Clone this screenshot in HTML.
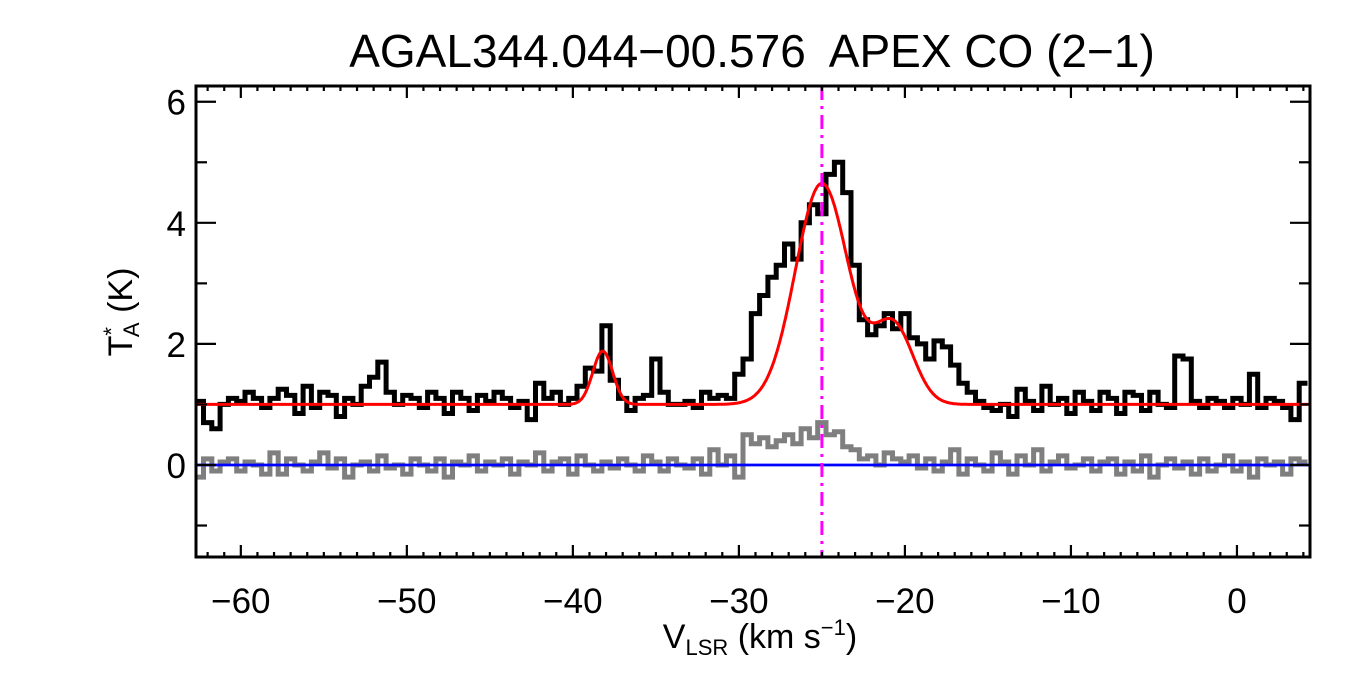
<!DOCTYPE html>
<html><head><meta charset="utf-8"><style>
html,body{margin:0;padding:0;background:#fff;}
svg{display:block;font-family:"Liberation Sans",sans-serif;}
</style></head><body>
<svg id="chart" width="1350" height="675" viewBox="0 0 1350 675" xmlns="http://www.w3.org/2000/svg">
<rect width="1350" height="675" fill="#fff"/>
<text x="752" y="67" font-size="46" text-anchor="middle" style="white-space:pre">AGAL344.044−00.576  APEX CO (2−1)</text>
<g id="plot"></g>
<text x="760" y="648" font-size="34" text-anchor="middle">V<tspan font-size="22" dy="7">LSR</tspan><tspan dy="-7"> (km s</tspan><tspan font-size="22" dy="-13">−1</tspan><tspan dy="13">)</tspan></text>
<text transform="translate(132,312) rotate(-90)" font-size="34" text-anchor="middle">T<tspan font-size="22" dy="-13">*</tspan><tspan font-size="22" dx="-10" dy="20">A</tspan><tspan dy="-7"> (K)</tspan></text>
</svg>
<script>
const vStart = -62.5;
const vStep = 0.5;
const spectrum = [
1.05,0.7,0.6,1.0,1.1,1.05,1.2,1.1,0.95,1.1,
1.25,1.15,0.85,1.3,0.95,1.2,1.15,0.8,1.1,1.0,
1.3,1.45,1.7,1.2,1.0,1.15,1.1,0.95,1.2,1.1,
0.85,1.2,1.1,0.9,1.15,1.05,1.2,1.1,0.95,1.05,
0.75,1.35,1.1,1.2,1.0,1.1,1.3,1.6,1.55,2.3,
1.4,1.1,0.9,1.1,1.15,1.75,1.2,1.0,1.0,1.05,
0.95,1.2,1.1,1.15,1.1,1.5,1.75,2.5,2.8,3.1,
3.3,3.65,3.4,4.0,4.3,4.15,4.8,5.0,4.5,3.3,
2.4,2.15,2.3,2.5,2.25,2.5,2.1,2.0,1.75,2.05,
1.95,1.65,1.35,1.2,1.05,0.95,0.9,1.0,0.8,1.25,
1.05,0.9,1.3,1.0,1.1,0.85,1.2,1.05,0.9,1.2,
1.1,0.85,1.2,1.15,0.9,1.2,1.0,0.95,1.8,1.75,
1.05,0.95,1.1,1.05,0.95,1.1,1.0,1.5,0.95,1.1,
1.05,0.95,0.75,1.35];
const residual = [
-0.2,0.1,-0.1,0.05,0.1,-0.1,0.05,0.0,-0.15,0.2,
-0.15,0.1,0.0,-0.1,0.05,0.2,-0.05,0.1,-0.2,0.0,
0.05,-0.1,0.15,-0.05,0.0,-0.15,0.1,0.0,-0.1,0.1,
-0.2,0.05,0.0,0.15,-0.1,0.05,0.0,0.1,-0.15,0.05,
0.0,0.2,-0.1,0.05,0.1,-0.15,0.15,0.0,-0.1,0.05,
-0.05,0.1,0.0,-0.1,0.15,0.05,-0.1,0.1,0.0,-0.05,
0.1,-0.15,0.25,0.0,0.15,-0.2,0.5,0.35,0.45,0.3,
0.4,0.5,0.35,0.6,0.45,0.7,0.5,0.55,0.3,0.25,
0.1,0.15,0.0,0.2,0.1,0.05,0.15,-0.05,0.1,-0.1,
0.05,0.25,-0.15,0.1,0.0,-0.1,0.2,0.05,-0.15,0.15,
0.0,0.25,-0.1,0.05,0.15,-0.05,0.0,0.1,-0.1,0.05,
0.1,-0.15,0.05,-0.1,0.15,-0.2,0.0,0.1,-0.05,0.05,
-0.15,0.1,-0.1,0.0,0.15,-0.1,0.05,-0.2,0.1,0.0,
0.05,-0.15,0.1,0.05];
const fitBaseline = 1.0;
const fitCenters = [-38.2, -25.0, -20.7];
const fitAmps = [0.88, 3.65, 1.3];
const fitSigmas = [0.6, 1.6, 1.2];
const vMarker = -25.0;
const xTickLabels = [-60,-50,-40,-30,-20,-10,0];
const yTickLabels = [0,2,4,6];
const xMin = -62.7, xMax = 4.4, yMin = -1.52, yMax = 6.26;

const L=196, R=1310, T=86, B=557;
const NS="http://www.w3.org/2000/svg";
const X = v => L + (v - xMin) / (xMax - xMin) * (R - L);
const Y = t => B - (t - yMin) / (yMax - yMin) * (B - T);
const plot = document.getElementById('plot');
function mk(tag, attrs){const e=document.createElementNS(NS,tag);for(const k in attrs)e.setAttribute(k,attrs[k]);return e;}

const clip = mk('clipPath',{id:'clp'});
clip.appendChild(mk('rect',{x:L,y:T,width:R-L,height:B-T}));
plot.appendChild(clip);
const g = mk('g',{'clip-path':'url(#clp)'});
plot.appendChild(g);

function stepPath(arr){
  let d='';
  arr.forEach((t,i)=>{
    const v0 = vStart + i*vStep - vStep/2, v1 = v0 + vStep;
    d += (i===0?'M':'L') + X(v0).toFixed(1)+','+Y(t).toFixed(1)+' L'+X(v1).toFixed(1)+','+Y(t).toFixed(1)+' ';
  });
  return d;
}
const gray = mk('path',{d:stepPath(residual),fill:'none',stroke:'#7f7f7f','stroke-width':5});


g.appendChild(gray);

const blue = mk('line',{x1:L,x2:R,y1:Y(0),y2:Y(0),stroke:'#0000ff','stroke-width':2.8});


g.appendChild(blue);

const black = mk('path',{d:stepPath(spectrum),fill:'none',stroke:'#000','stroke-width':5});


g.appendChild(black);

let fd='';
for(let v=xMin; v<=xMax; v+=0.05){
  let t=fitBaseline;
  for(let k=0;k<fitCenters.length;k++) t+=fitAmps[k]*Math.exp(-Math.pow(v-fitCenters[k],2)/(2*fitSigmas[k]*fitSigmas[k]));
  fd += (fd?'L':'M')+X(v).toFixed(1)+','+Y(t).toFixed(1)+' ';
}
const red = mk('path',{d:fd,fill:'none',stroke:'#ff0000','stroke-width':3});


g.appendChild(red);

const mag = mk('line',{x1:X(vMarker),x2:X(vMarker),y1:T,y2:B,stroke:'#ff00ff','stroke-width':3,'stroke-dasharray':'14,6,3,6'});


g.appendChild(mag);

const frame = mk('rect',{x:L,y:T,width:R-L,height:B-T,fill:'none',stroke:'#000','stroke-width':3});


plot.appendChild(frame);

for(let v=Math.ceil(xMin); v<=xMax; v++){
  const major = v%10===0, len = major?12:5, x=X(v);
  plot.appendChild(mk('line',{x1:x,x2:x,y1:B,y2:B-len,stroke:'#000','stroke-width':2.2}));
  plot.appendChild(mk('line',{x1:x,x2:x,y1:T,y2:T+len,stroke:'#000','stroke-width':2.2}));
}
xTickLabels.forEach(v=>{
  const t = mk('text',{x:X(v),y:613,'font-size':35,'text-anchor':'middle'});
  t.textContent = v<0 ? '−'+Math.abs(v) : String(v);
  
  
  plot.appendChild(t);
});
for(let t=Math.ceil(yMin); t<=yMax; t++){
  const major = t%2===0, len = major?20:11, y=Y(t);
  plot.appendChild(mk('line',{x1:L,x2:L+len,y1:y,y2:y,stroke:'#000','stroke-width':2.2}));
  plot.appendChild(mk('line',{x1:R,x2:R-len,y1:y,y2:y,stroke:'#000','stroke-width':2.2}));
}
yTickLabels.forEach(t=>{
  const e = mk('text',{x:186,y:Y(t)+13,'font-size':35,'text-anchor':'end'});
  e.textContent = String(t);
  
  
  plot.appendChild(e);
});
</script>
</body></html>
